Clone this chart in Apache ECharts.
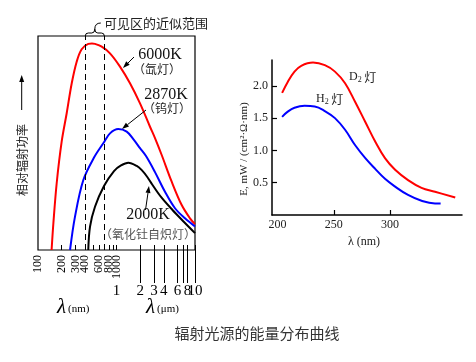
<!DOCTYPE html>
<html><head><meta charset="utf-8">
<script src="https://cdn.jsdelivr.net/npm/echarts@6/dist/echarts.min.js"></script>
<style>html,body{margin:0;padding:0;background:#fff}#c{width:476px;height:362px}</style>
</head><body><div id="c"></div>
<script>
// ---- Left panel: relative radiant power vs wavelength (log axis, nm) ----
const nmLabels = [100, 200, 300, 400, 600, 800, 1000];
const nmTicks = [200, 300, 400, 500, 600, 700, 800, 900, 1000];
const umLabels = [1, 2, 3, 4, 6, 8, 10];
const umTicks = [2, 3, 4, 6, 7, 8, 10];
const visibleRange = [400, 700];

const k6000Wl = [149, 157, 173, 200, 232, 269, 311, 360, 437, 487, 532, 648, 826, 1108, 1486, 1993, 2672, 3093, 3765, 5049, 6770, 8637, 10000];
const k6000Val = [0, 12.5, 31.2, 50.5, 63.9, 77.9, 88.0, 93.8, 96.3, 96.5, 96.3, 95.0, 91.9, 85.7, 77.9, 68.5, 57.6, 52.3, 44.4, 31.9, 21.0, 14.8, 12.1];

const k2870Wl = [256, 296, 378, 517, 679, 826, 1054, 1349, 1637, 1993, 2376, 3093, 4148, 5562, 7459, 10000];
const k2870Val = [0, 15.6, 32.7, 43.2, 49.9, 54.5, 56.5, 55.3, 51.8, 47.6, 43.9, 36.4, 27.2, 19.5, 14.8, 11.0];

const k2000Wl = [437, 460, 532, 693, 929, 1141, 1414, 1810, 2100, 2480, 2850, 3689, 5168, 7244, 10000];
const k2000Val = [0, 10.9, 20.2, 29.9, 36.9, 39.5, 40.8, 39.3, 37.3, 34.0, 30.6, 24.8, 18.7, 13.1, 7.9];

// ---- Right panel: D2 / H2 lamp ----
const rightXLabels = [200, 250, 300];
const rightXTicks = [250, 300];
const rightYLabels = [0.5, 1.0, 1.5, 2.0];
const d2Wl = [204, 209, 215, 221, 231.5, 242, 251, 260, 269, 278, 287, 295.5, 304.5, 316, 328, 340, 358];
const d2Val = [1.89, 2.06, 2.22, 2.31, 2.36, 2.32, 2.22, 2.04, 1.75, 1.44, 1.13, 0.88, 0.70, 0.54, 0.42, 0.36, 0.27];
const h2Wl = [204, 209, 215, 224, 233, 242, 251, 260, 269, 278, 287, 295.5, 304.5, 316, 328, 340, 345];
const h2Val = [1.52, 1.60, 1.66, 1.69, 1.68, 1.61, 1.50, 1.32, 1.08, 0.88, 0.71, 0.56, 0.44, 0.31, 0.22, 0.18, 0.18];

const pairs = (a, b) => a.map((v, i) => [v, b[i]]);
const SERIF = 'Liberation Serif';
const CJK = 'Noto Sans CJK SC';
const LOGMAX = 10000;
const clampLog = v => Math.min(v, LOGMAX - 0.01);

// labels that sit too close to their neighbours are split onto a twin axis so none is dropped
const nmLabelsA = nmLabels.filter((v, i) => i % 2 === 0);
const nmLabelsB = nmLabels.filter((v, i) => i % 2 === 1);
const umLabelsA = umLabels.filter((v, i) => i % 2 === 0);
const umLabelsB = umLabels.filter((v, i) => i % 2 === 1);

const chart = echarts.init(document.getElementById('c'), null, {renderer: 'canvas'});

function nmAxis(labels, withTicks) {
  return {
    gridIndex: 0, type: 'log', min: 100, max: LOGMAX, logBase: 10, position: 'bottom',
    axisLine: {show: false}, splitLine: {show: false}, minorTick: {show: false},
    axisTick: {show: withTicks, inside: true, length: 5, lineStyle: {color: '#000', width: 1},
      customValues: nmTicks.concat(umTicks.map(v => clampLog(v * 1000)))},
    axisLabel: {show: true, rotate: 90, margin: 5, color: '#000', fontFamily: SERIF, fontSize: 12,
      customValues: labels.map(clampLog), hideOverlap: false, showMinLabel: true, showMaxLabel: true,
      formatter: v => String(Math.round(v))}
  };
}
function umAxis(labels, withTicks) {
  return {
    gridIndex: 0, type: 'log', min: 100, max: LOGMAX, logBase: 10, position: 'bottom',
    axisLine: {show: false}, splitLine: {show: false}, minorTick: {show: false},
    axisTick: {show: withTicks, inside: false, length: 33, lineStyle: {color: '#000', width: 1},
      customValues: umTicks.map(v => clampLog(v * 1000))},
    axisLabel: {show: true, margin: 34, color: '#000', fontFamily: SERIF, fontSize: 15,
      customValues: labels.map(v => clampLog(v * 1000)), hideOverlap: false, showMinLabel: true, showMaxLabel: true,
      formatter: v => String(Math.round(v / 1000))}
  };
}

const option = {
  animation: false,
  backgroundColor: '#fff',
  grid: [
    {left: 38, top: 36, width: 157, height: 214, show: true, borderColor: '#000', borderWidth: 1.2, backgroundColor: 'transparent'},
    {left: 272, top: 60, width: 190, height: 155}
  ],
  xAxis: [
    nmAxis(nmLabelsA, true),
    umAxis(umLabelsA, true),
    {
      gridIndex: 1, type: 'value', min: 195, max: 364,
      axisLine: {show: true, lineStyle: {color: '#000', width: 1.5}},
      splitLine: {show: false},
      axisTick: {show: true, inside: true, length: 5, lineStyle: {color: '#000', width: 1.2}, customValues: rightXTicks},
      axisLabel: {show: true, margin: 4, color: '#222', fontFamily: SERIF, fontSize: 12, customValues: rightXLabels, hideOverlap: false}
    },
    nmAxis(nmLabelsB, false),
    umAxis(umLabelsB, false)
  ],
  yAxis: [
    {gridIndex: 0, type: 'value', min: 0, max: 100, show: false, splitLine: {show: false}},
    {
      gridIndex: 1, type: 'value', min: 0, max: 2.4,
      axisLine: {show: true, lineStyle: {color: '#000', width: 1.5}},
      splitLine: {show: false},
      axisTick: {show: true, inside: true, length: 5, lineStyle: {color: '#000', width: 1.2}, customValues: rightYLabels},
      axisLabel: {show: true, margin: 4, color: '#222', fontFamily: SERIF, fontSize: 12, customValues: rightYLabels,
        hideOverlap: false, formatter: v => v.toFixed(1)}
    }
  ],
  series: [
    {type: 'line', name: '6000K', xAxisIndex: 0, yAxisIndex: 0, data: pairs(k6000Wl, k6000Val), smooth: 0.35,
      showSymbol: false, lineStyle: {color: '#ff0000', width: 2}, z: 3,
      markLine: {silent: true, symbol: 'none', label: {show: false},
        lineStyle: {color: '#000', type: [6, 4], width: 1}, data: visibleRange.map(v => ({xAxis: v}))}},
    {type: 'line', name: '2870K', xAxisIndex: 0, yAxisIndex: 0, data: pairs(k2870Wl, k2870Val), smooth: 0.35,
      showSymbol: false, lineStyle: {color: '#0000ff', width: 2}, z: 3},
    {type: 'line', name: '2000K', xAxisIndex: 0, yAxisIndex: 0, data: pairs(k2000Wl, k2000Val), smooth: 0.35,
      showSymbol: false, lineStyle: {color: '#000', width: 2}, z: 3},
    {type: 'line', name: 'D2', xAxisIndex: 2, yAxisIndex: 1, data: pairs(d2Wl, d2Val), smooth: 0.4,
      showSymbol: false, lineStyle: {color: '#ff0000', width: 2}},
    {type: 'line', name: 'H2', xAxisIndex: 2, yAxisIndex: 1, data: pairs(h2Wl, h2Val), smooth: 0.4,
      showSymbol: false, lineStyle: {color: '#0000ff', width: 2}}
  ]
};
chart.setOption(option);

function arrow(x1, y1, x2, y2, col) {
  const a = Math.atan2(y2 - y1, x2 - x1), L = 7, W = 2.5;
  const bx = x2 - L * Math.cos(a), by = y2 - L * Math.sin(a);
  return [
    {type: 'line', shape: {x1, y1, x2: bx, y2: by}, style: {stroke: col || '#000', lineWidth: 1}, z: 10},
    {type: 'polygon', shape: {points: [[x2, y2], [bx - W * Math.sin(a), by + W * Math.cos(a)], [bx + W * Math.sin(a), by - W * Math.cos(a)]]},
      style: {fill: col || '#000'}, z: 10}
  ];
}
function txt(text, x, y, size, family, fill) {
  return {type: 'text', x, y, z: 10,
    style: {text, fill: fill || '#111', font: size + 'px "' + family + '"', align: 'center', verticalAlign: 'middle'}};
}
function curve(x1, y1, cx, cy, x2, y2) {
  return {type: 'bezierCurve', z: 10, shape: {x1, y1, x2, y2, cpx1: cx, cpy1: cy}, style: {stroke: '#000', lineWidth: 1, fill: null}};
}
function seg(x1, y1, x2, y2) {
  return {type: 'line', z: 10, shape: {x1, y1, x2, y2}, style: {stroke: '#000', lineWidth: 1}};
}

const xa = chart.convertToPixel({xAxisIndex: 0}, visibleRange[0]);
const xb = chart.convertToPixel({xAxisIndex: 0}, visibleRange[1]);
const xm = (xa + xb) / 2;
const g = [];
// brace over the visible region
g.push(curve(xa, 36, xa, 33, xa + 3, 33));
g.push(seg(xa + 3, 33, xm - 3, 33));
g.push(curve(xm - 3, 33, xm, 33, xm, 29));
g.push(curve(xm, 29, xm, 33, xm + 3, 33));
g.push(seg(xm + 3, 33, xb - 3, 33));
g.push(curve(xb - 3, 33, xb, 33, xb, 36));
g.push(curve(xm, 29, xm, 23, xm + 6, 23));
g.push(txt('可见区的近似范围', 156, 23, 13, CJK, '#222'));

g.push(txt('6000K', 160, 55, 16, SERIF));
g.push(txt('（氙灯）', 157, 69, 12, CJK, '#222'));
g.push(...arrow(134, 57, 123, 68));
g.push(txt('2870K', 166, 95, 16, SERIF));
g.push(txt('（钨灯）', 167, 108, 12, CJK, '#222'));
g.push(...arrow(146, 110, 122, 129));
g.push(txt('2000K', 148, 215, 16, SERIF));
g.push(txt('（氧化钍自炽灯）', 148, 234, 12, CJK, '#555'));
g.push(...arrow(145.5, 210, 149, 186));

// left y-axis label + arrow
g.push({type: 'text', x: 22, y: 160, rotation: Math.PI / 2, z: 10,
  style: {text: '相对辐射功率', fill: '#222', font: '12px "' + CJK + '"', align: 'center', verticalAlign: 'middle'}});
g.push(...arrow(21.7, 110, 21.7, 75));

// lambda axis titles
const lamRich = {l: {fontFamily: SERIF, fontStyle: 'italic', fontSize: 21, fill: '#000'}, u: {fontFamily: SERIF, fontSize: 11, fill: '#000', padding: [4, 0, 0, 2]}};
g.push({type: 'text', x: 57, y: 307, z: 10, style: {text: '{l|λ}{u|(nm)}', rich: lamRich, align: 'left', verticalAlign: 'middle'}});
g.push({type: 'text', x: 146, y: 307, z: 10, style: {text: '{l|λ}{u|(μm)}', rich: lamRich, align: 'left', verticalAlign: 'middle'}});

// right panel labels
const subRich = {a: {fontFamily: SERIF, fontSize: 12, fill: '#222'}, s: {fontFamily: SERIF, fontSize: 8, fill: '#222', padding: [6, 0, 0, 0]}, b: {fontFamily: CJK, fontSize: 12, fill: '#222'}};
g.push({type: 'text', x: 349, y: 77, z: 10, style: {text: '{a|D}{s|2}{b| 灯}', rich: subRich, align: 'left', verticalAlign: 'middle'}});
g.push({type: 'text', x: 316, y: 99, z: 10, style: {text: '{a|H}{s|2}{b| 灯}', rich: subRich, align: 'left', verticalAlign: 'middle'}});
g.push({type: 'text', x: 244, y: 149, rotation: Math.PI / 2, z: 10,
  style: {text: 'E, mW / (cm²·Ω·nm)', fill: '#222', font: '11px "' + SERIF + '"', align: 'center', verticalAlign: 'middle'}});
g.push({type: 'text', x: 364, y: 242, z: 10,
  style: {text: 'λ (nm)', fill: '#222', font: '12px "' + SERIF + '"', align: 'center', verticalAlign: 'middle'}});

// title
g.push({type: 'text', x: 257, y: 333, z: 10,
  style: {text: '辐射光源的能量分布曲线', fill: '#333', font: '15px "' + CJK + '"', align: 'center', verticalAlign: 'middle'}});

chart.setOption({graphic: {elements: g}});
</script>
</body></html>
